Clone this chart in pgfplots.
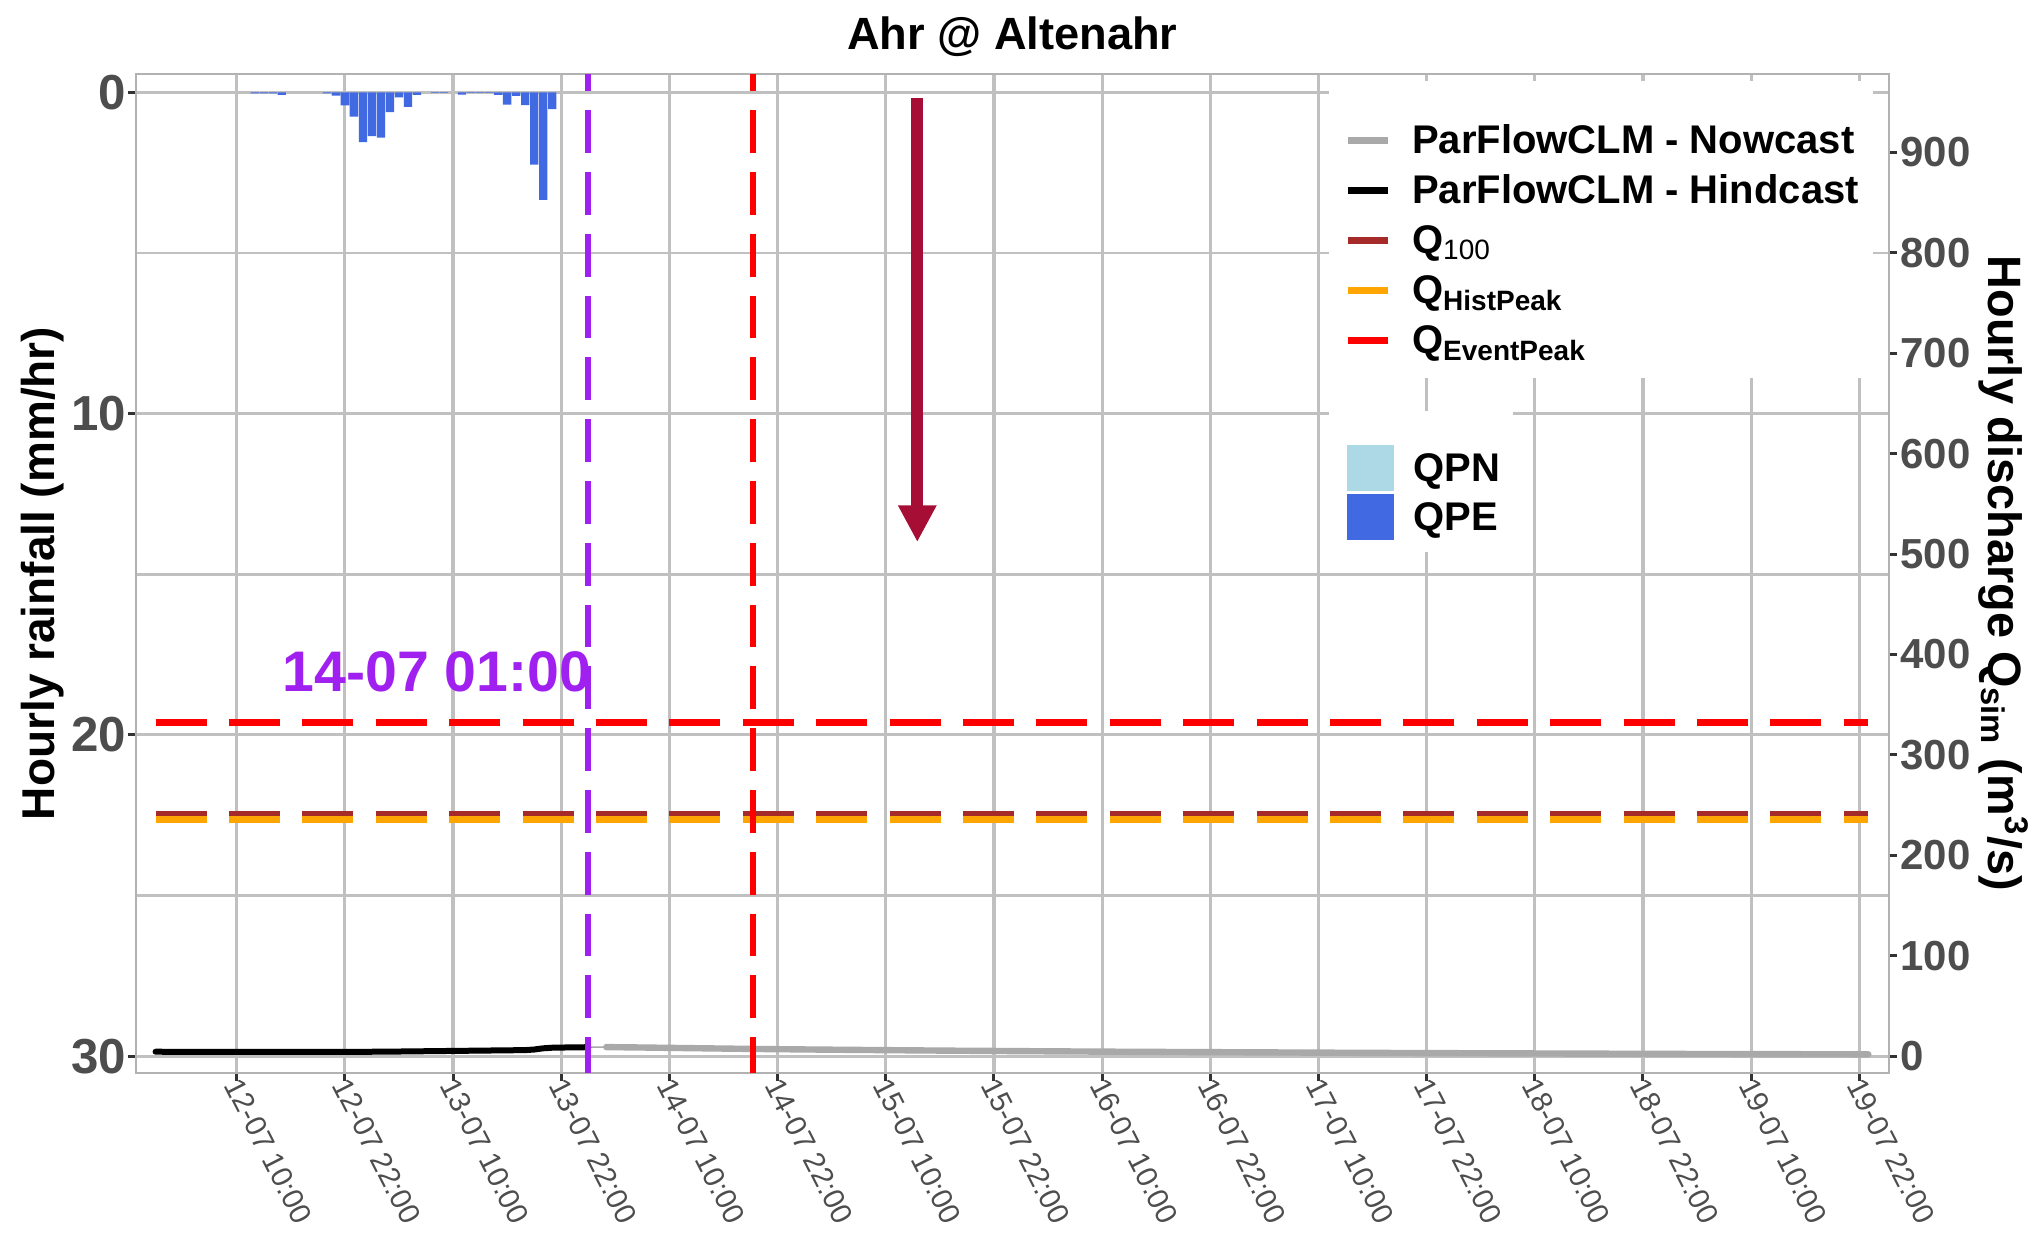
\documentclass[border=0pt]{standalone}
\usepackage{pgfplots}
\usepackage{pgfplotstable}
\pgfplotsset{compat=1.18}
\usepackage{fontspec}
\setmainfont{Liberation Sans}
\usetikzlibrary{arrows.meta}

\definecolor{qpe}{HTML}{4169E1}
\definecolor{qpn}{HTML}{ADD8E6}
\definecolor{nowc}{HTML}{A9A9A9}
\definecolor{qhund}{HTML}{A52A2A}
\definecolor{qhist}{HTML}{FFA500}
\definecolor{qevent}{HTML}{FF0000}
\definecolor{vpurple}{HTML}{A020F0}
\definecolor{arrowc}{RGB}{166,14,54}
\definecolor{gridc}{RGB}{192,192,192}
\definecolor{borderc}{RGB}{178,178,178}
\definecolor{tickc}{HTML}{333333}
\definecolor{ticklab}{HTML}{4D4D4D}

\pgfplotstableread{
h mm
12 0.03
13 0.03
14 0.03
15 0.08
20 0.03
21 0.10
22 0.41
23 0.76
24 1.55
25 1.36
26 1.41
27 0.62
28 0.16
29 0.45
30 0.08
32 0.02
33 0.02
35 0.07
36 0.02
37 0.02
38 0.02
39 0.08
40 0.38
41 0.11
42 0.40
43 2.25
44 3.35
45 0.52
}\raintab

\pgfplotstableread{
h q
1 4.4
4 4.3
8 4.2
12 4.2
16 4.2
20 4.2
24 4.3
28 4.6
32 5.0
36 5.4
40 5.8
42 6.0
43 6.6
44 7.8
45 8.4
47 8.7
49 8.9
}\hindtab

\pgfplotstableread{
h q
51 9.0
55 8.6
60 8.0
67 7.2
75 6.5
83 5.9
90 5.4
100 4.8
110 4.3
120 3.9
130 3.5
140 3.1
150 2.8
160 2.5
170 2.2
180 2.0
191 1.8
}\nowtab

\pgfplotsset{
  lineleg/.style={legend image code/.code={\path[draw=none,fill=none] (0pt,0pt) rectangle (10pt,7.2pt);\draw[color=#1, line width=1.75pt] (0pt,1.0pt) -- (10pt,1.0pt);}},
  boxleg/.style={legend image code/.code={\path[draw=none,fill=none] (0pt,0pt) rectangle (11.3pt,16.2pt);\fill[color=#1] (0pt,0pt) rectangle (11.3pt,11pt);}},
  base/.style={
    scale only axis, width=438.2pt, height=249.7pt,
    at={(0pt,0pt)}, anchor=south west,
    xmin=-1.17, xmax=193.27,
    tick align=outside, major tick length=2pt, minor tick length=0pt,
    tick style={color=tickc, line width=0.75pt},
    axis line style={color=borderc, line width=0.65pt},
    /pgf/number format/assume math mode=true,
    legend cell align=left,
  },
  legbase/.style={draw=none, fill=none, anchor=north west, inner xsep=0pt, inner ysep=0pt,
    nodes={inner sep=0pt, text height=7.4pt, text depth=2.6pt},
    font=\bfseries\fontsize{10}{12}\selectfont},
}

\begin{document}
\begin{tikzpicture}
\path[use as bounding box] (-34pt,-40.8pt) rectangle (475.25pt,268.2pt);
\begin{axis}[base,
  y dir=reverse, ymin=-0.57, ymax=30.52,
  ytick={0,10,20,30}, minor ytick={5,15,25},
  ytick pos=left,
  xtick={10,22,...,190},
  xticklabels={12-07 10:00,12-07 22:00,13-07 10:00,13-07 22:00,14-07 10:00,14-07 22:00,15-07 10:00,15-07 22:00,16-07 10:00,16-07 22:00,17-07 10:00,17-07 22:00,18-07 10:00,18-07 22:00,19-07 10:00,19-07 22:00},
  xtick pos=left, xticklabel pos=left,
  grid=both,
  major grid style={color=gridc, line width=0.8pt},
  minor grid style={color=gridc, line width=0.7pt},
  yticklabel style={font=\bfseries\fontsize{12.3}{14}\selectfont, text=ticklab, xshift=3.1pt},
  xticklabel style={font=\fontsize{7.4}{9}\selectfont, text=ticklab, xshift=-2.6pt, yshift=3.2pt, rotate=-63, anchor=west},
  ylabel={Hourly rainfall (mm/hr)},
  every axis y label/.style={font=\bfseries\fontsize{11.5}{13}\selectfont, at={(axis description cs:-0.0531,0.5)}, rotate=90, anchor=center},
  title={Ahr @ Altenahr},
  every axis title/.style={font=\bfseries\fontsize{11.3}{13}\selectfont, at={(axis description cs:0.5,1.0247)}, anchor=base},
  legend style={legbase, at={(axis description cs:0.6907,0.6494)}, row sep=-8.95pt, column sep=4.75pt},
]
\fill[white] (axis description cs:0.6807,0.6956) rectangle (axis description cs:0.9911,0.9930);
\fill[white] (axis description cs:0.6807,0.5214) rectangle (axis description cs:0.7856,0.6626);
\addlegendimage{boxleg=qpn}\addlegendentry{\raisebox{4.4pt}{QPN}}
\addlegendimage{boxleg=qpe}\addlegendentry{\raisebox{4.4pt}{QPE}}
\addplot[ybar, bar width=0.92, bar shift=0pt, fill=qpe, draw=none, forget plot] table[x=h,y=mm] {\raintab};
\node[anchor=base east, font=\bfseries\fontsize{14.3}{16}\selectfont, text=vpurple, inner sep=0pt] at (axis cs:49.4,18.66) {14-07 01:00};
\draw[arrowc, line width=2.9pt, -{Triangle[width=9pt,length=9.2pt]}] (axis cs:85.5,0.19) -- (axis cs:85.5,14);
\end{axis}

\begin{axis}[base,
  ymin=-16.6, ymax=978.2,
  axis x line=none, axis y line*=right,
  ytick={0,100,...,900},
  yticklabel style={font=\bfseries\fontsize{10.5}{12}\selectfont, text=ticklab, xshift=-2.6pt},
  ylabel={Hourly discharge Q\textsubscript{sim} (m\textsuperscript{3}/s)},
  every axis y label/.style={font=\bfseries\fontsize{11.7}{13}\selectfont, at={(axis description cs:1.0655,0.5)}, rotate=-90, anchor=center},
  legend style={legbase, at={(axis description cs:0.6888,0.9594)}, row sep=0.3pt, column sep=5.25pt},
]
\addlegendimage{lineleg=nowc}\addlegendentry{ParFlowCLM - Nowcast}
\addlegendimage{lineleg=black}\addlegendentry{ParFlowCLM - Hindcast}
\addlegendimage{lineleg=qhund}\addlegendentry{Q\textsubscript{\mdseries 100}}
\addlegendimage{lineleg=qhist}\addlegendentry{Q\textsubscript{HistPeak}}
\addlegendimage{lineleg=qevent}\addlegendentry{Q\textsubscript{EventPeak}}
\addplot[color=nowc, line width=0.4pt, forget plot] coordinates {(49,8.9) (51,9.0)};
\addplot[color=nowc, line width=1.6pt, line cap=round, forget plot] table[x=h,y=q] {\nowtab};
\addplot[color=black, line width=1.5pt, line cap=round, forget plot] table[x=h,y=q] {\hindtab};
\addplot[color=qhund, line width=1.75pt, dash pattern=on 12.75pt off 5.6pt, forget plot] coordinates {(1,240.6) (191,240.6)};
\addplot[color=qhist, line width=1.75pt, dash pattern=on 12.75pt off 5.6pt, forget plot] coordinates {(1,235.9) (191,235.9)};
\addplot[color=qevent, line width=1.75pt, dash pattern=on 12.75pt off 5.6pt, forget plot] coordinates {(1,332.2) (191,332.2)};
\addplot[color=vpurple, line width=1.4pt, dash pattern=on 10.7pt off 4.75pt, dash phase=6.4pt, forget plot] coordinates {(49,978.2) (49,-16.6)};
\addplot[color=qevent, line width=1.4pt, dash pattern=on 10.7pt off 4.75pt, dash phase=6.4pt, forget plot] coordinates {(67.3,978.2) (67.3,-16.6)};
\end{axis}
\end{tikzpicture}
\end{document}
